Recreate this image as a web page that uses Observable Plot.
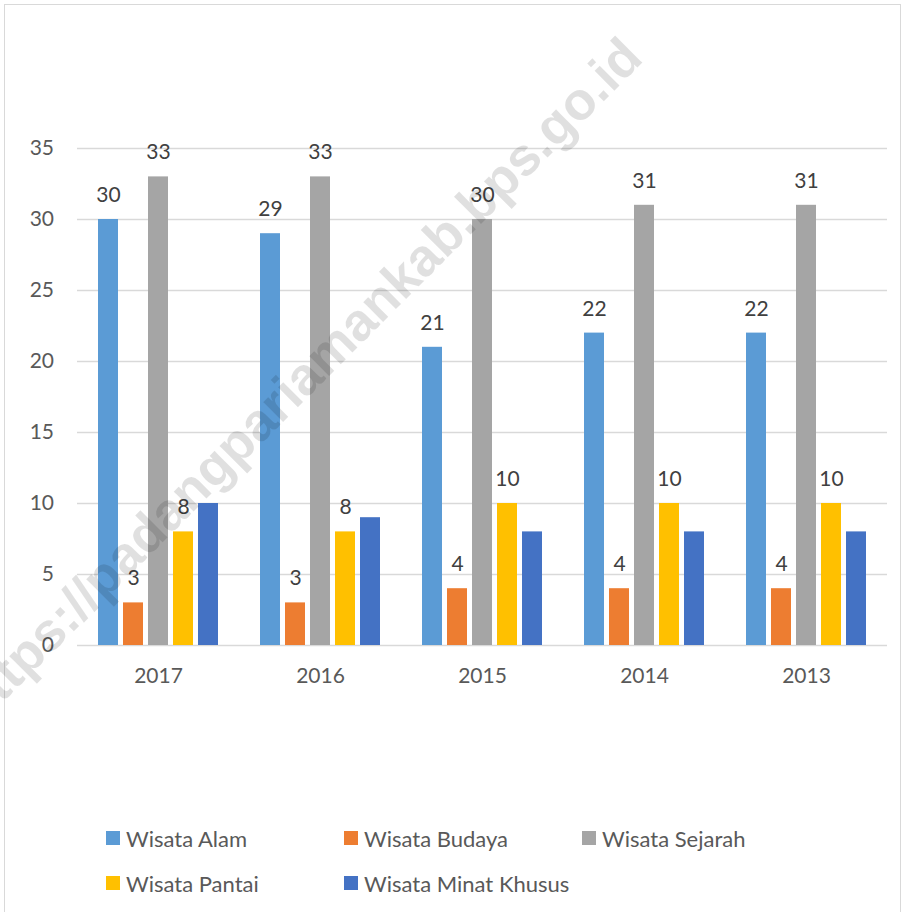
<!DOCTYPE html>
<html>
<head>
<meta charset="utf-8">
<script src="https://cdn.jsdelivr.net/npm/d3@7"></script>
<script src="https://cdn.jsdelivr.net/npm/@observablehq/plot@0.6"></script>
<style>
  html, body { margin: 0; padding: 0; background: #fff; }
  #wrap { position: relative; width: 907px; height: 912px; overflow: hidden; font-family: Lato, "Open Sans", sans-serif; }
  #frame { position: absolute; left: 4px; top: 4px; width: 897px; height: 920px; border: 1.5px solid #d9d9d9; box-sizing: border-box; }
  #chart { position: absolute; left: 0; top: 0; }
  .leg { position: absolute; display: flex; align-items: center; font-size: 22px; color: #595959; white-space: nowrap; }
  .leg .sw { width: 14px; height: 14px; margin-right: 6px; }
  #wm { position: absolute; left: 0; top: 0; pointer-events: none; }
</style>
</head>
<body>
<div id="wrap">
  <div id="frame"></div>
  <div id="chart"></div>
  <div id="legend"></div>
  <svg id="wm" width="907" height="912"></svg>
</div>
<script>
// ---- data ----
const years = ["2017", "2016", "2015", "2014", "2013"];
const series = ["Wisata Alam", "Wisata Budaya", "Wisata Sejarah", "Wisata Pantai", "Wisata Minat Khusus"];
const colors = ["#5B9BD5", "#ED7D31", "#A5A5A5", "#FFC000", "#4472C4"];
const wisataAlam = [30, 29, 21, 22, 22];
const wisataBudaya = [3, 3, 4, 4, 4];
const wisataSejarah = [33, 33, 30, 31, 31];
const wisataPantai = [8, 8, 10, 10, 10];
const wisataMinatKhusus = [10, 9, 8, 8, 8];
const yTicks = [0, 5, 10, 15, 20, 25, 30, 35];
const labeledSeries = ["Wisata Alam", "Wisata Budaya", "Wisata Sejarah", "Wisata Pantai"];
const watermark = "https://padangpariamankab.bps.go.id";

const valuesBySeries = [wisataAlam, wisataBudaya, wisataSejarah, wisataPantai, wisataMinatKhusus];
const rows = [];
years.forEach((yr, i) => series.forEach((s, j) => rows.push({year: yr, series: s, value: valuesBySeries[j][i]})));
const labelRows = rows.filter(d => labeledSeries.includes(d.series));

const chart = Plot.plot({
  width: 907,
  height: 720,
  marginLeft: 77,
  marginRight: 20,
  marginTop: 148,
  marginBottom: 75,
  style: {fontFamily: "Lato, 'Open Sans', sans-serif", fontSize: "21px", color: "#595959", background: "transparent"},
  fx: {domain: years, padding: 0, axis: "bottom", tickSize: 0, tickPadding: 23, label: null},
  x: {domain: series, paddingInner: 0.22, paddingOuter: 0.85, axis: null},
  y: {domain: [0, 35], ticks: yTicks, axis: "left", tickSize: 0, tickPadding: 23.5, label: null},
  color: {domain: series, range: colors},
  marks: [
    Plot.ruleY(yTicks, {stroke: "#d9d9d9", strokeWidth: 1.5}),
    Plot.barY(rows, {fx: "year", x: "series", y: "value", fill: "series"}),
    Plot.text(labelRows, {fx: "year", x: "series", y: "value", text: d => String(d.value), lineAnchor: "bottom", dy: -17.5, fill: "#404040", fontSize: 21})
  ]
});
document.getElementById("chart").appendChild(chart);

// legend
const legPos = [[106, 838], [344, 838], [582, 838], [106, 883], [344, 883]];
const legend = document.getElementById("legend");
series.forEach((s, i) => {
  const el = document.createElement("div");
  el.className = "leg";
  el.style.left = legPos[i][0] + "px";
  el.style.top = (legPos[i][1] - 14) + "px";
  el.style.height = "28px";
  el.innerHTML = `<span class="sw" style="background:${colors[i]}"></span><span>${s}</span>`;
  legend.appendChild(el);
});

// watermark
const wm = d3.select("#wm");
wm.append("text")
  .attr("x", 645).attr("y", 60)
  .attr("text-anchor", "end")
  .attr("transform", "rotate(-45 645 60)")
  .attr("font-family", "'Liberation Sans', Arial, sans-serif")
  .attr("font-weight", "bold")
  .attr("font-size", 53)
  .attr("fill", "#000")
  .attr("fill-opacity", 0.12)
  .text(watermark);
</script>
</body>
</html>
